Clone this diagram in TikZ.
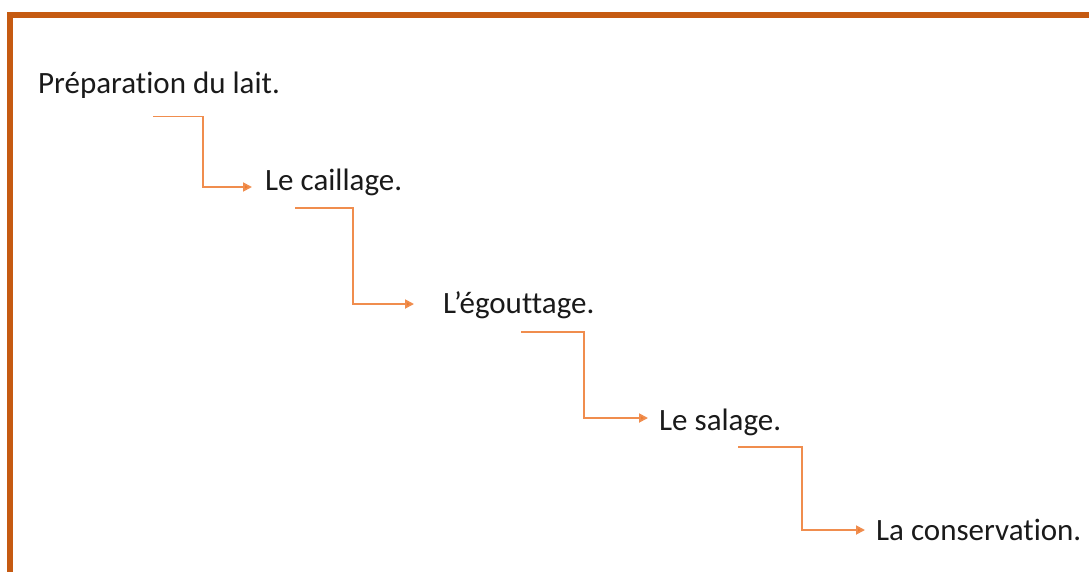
\documentclass[tikz,border=0pt]{standalone}
\usepackage{fontspec}
\setmainfont{Carlito}[RawFeature={-liga;-clig;-calt;-dlig}]
\usetikzlibrary{arrows.meta,calc}
\definecolor{framec}{HTML}{C55A11}
\definecolor{connc}{HTML}{F08D4E}
\definecolor{tipc}{HTML}{ED7D31}
\definecolor{txtc}{HTML}{1A1A1A}
\tikzset{
  stage/.style={anchor=base west,inner sep=0pt,font=\fontsize{31}{36}\selectfont,text=txtc},
  conn/.style={draw=connc,line width=1.8pt,-{Triangle[length=9pt,width=9pt,fill=tipc]}}
}
\begin{document}
\begin{tikzpicture}[x=1pt,y=-1pt]
\useasboundingbox (0,0) rectangle (1089,572);
\fill[white] (0,0) rectangle (1089,572);
\begin{scope}
\clip (0,0) rectangle (1089,572);
\draw[framec,line width=6pt] (10,15.5) rectangle (1110,600);
\end{scope}
\node[stage] (n1) at (38,94) {Préparation du lait.};
\node[stage] (n2) at (265,191) {Le caillage.};
\node[stage] (n3) at (443,313) {L’égouttage.};
\node[stage] (n4) at (659,430) {Le salage.};
\node[stage] (n5) at (876,540) {La conservation.};
\coordinate (s1) at (153,116.5);
\coordinate (s2) at (295,207.7);
\coordinate (s3) at (521,332);
\coordinate (s4) at (738,447.3);
\coordinate (c1) at (203,116.5);
\coordinate (c2) at (353.3,207.7);
\coordinate (c3) at (584.3,332);
\coordinate (c4) at (801.7,447.3);
\coordinate (t1) at ($(n2.base west)+(-13,-4)$);
\coordinate (t2) at ($(n3.base west)+(-29,-9)$);
\coordinate (t3) at ($(n4.base west)+(-11,-12)$);
\coordinate (t4) at ($(n5.base west)+(-11,-10)$);
\draw[conn] (s1) -- (c1) |- (t1);
\draw[conn] (s2) -- (c2) |- (t2);
\draw[conn] (s3) -- (c3) |- (t3);
\draw[conn] (s4) -- (c4) |- (t4);
\end{tikzpicture}
\end{document}
